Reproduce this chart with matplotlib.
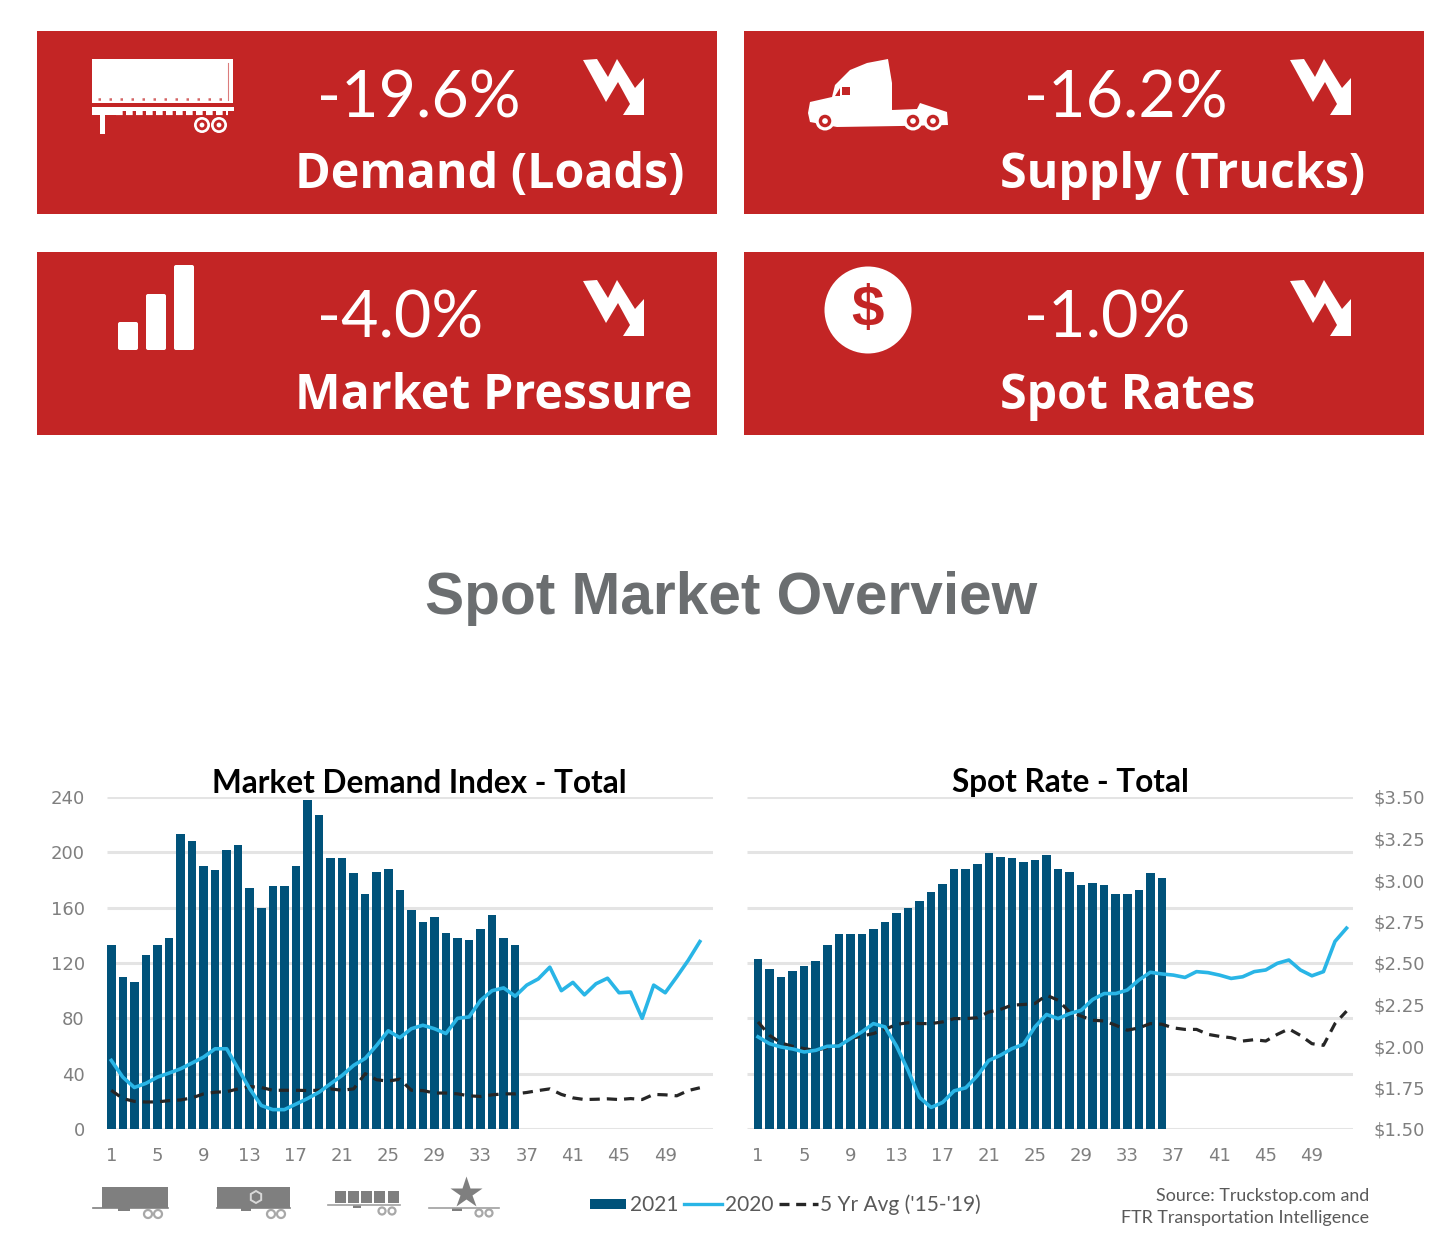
import matplotlib
matplotlib.use('Agg')
import matplotlib.pyplot as plt
from matplotlib.patches import Rectangle, Polygon, Circle, FancyBboxPatch, RegularPolygon

# cards
CardPct = ['-19.6%', '-16.2%', '-4.0%', '-1.0%']
CardName = ['Demand (Loads)', 'Supply (Trucks)', 'Market Pressure', 'Spot Rates']

# left chart
DemandWeeks = list(range(1, 37))
Demand2021 = [133, 110, 106, 126, 133, 138, 213, 208, 190, 187, 201.5, 205, 174.5, 160, 176, 176, 190, 238,
              227, 196, 196, 185, 170, 186, 188, 173, 158, 150, 153, 142, 138, 136.5, 144.5, 155, 138, 133]
Demand2020 = [49.6, 37.5, 30, 33, 37.5, 40.4, 43.5, 47.7, 52, 58, 58, 43.5, 29, 17, 14, 14, 18, 22, 26.6, 32.7,
              38.7, 46, 51, 60.5, 71, 66, 72.5, 75, 72.5, 69, 80, 81, 93, 100, 102, 96, 104, 108.5, 117, 100,
              106, 97, 105, 109, 98.5, 99, 80, 104, 98.5, 110, 122, 135.5]
DemandAvg = [28, 22, 20, 19.5, 19.6, 20.5, 21, 22.5, 25.4, 26.6, 27, 29, 30.7, 30, 28, 28, 28, 27.8, 28, 29,
             28, 29, 40, 35.6, 34.6, 36, 28, 27.8, 26, 26, 25.4, 24, 23.5, 24.7, 25.4, 25.4, 26.4, 27.8, 29,
             25, 22.5, 21.3, 21.5, 21.8, 21.3, 22, 21.3, 25, 24.7, 24, 27.8, 29.8]
DemandTicks = [0, 40, 80, 120, 160, 200, 240]

# right chart
Rate2021 = [2.524, 2.464, 2.413, 2.454, 2.482, 2.51, 2.607, 2.677, 2.677, 2.677, 2.704, 2.746, 2.80, 2.829,
            2.871, 2.927, 2.974, 3.066, 3.066, 3.097, 3.163, 3.137, 3.135, 3.109, 3.121, 3.151, 3.066, 3.05,
            2.97, 2.98, 2.97, 2.913, 2.913, 2.94, 3.04, 3.01]
Rate2020 = [2.055, 2.014, 1.994, 1.982, 1.964, 1.974, 1.998, 2.0, 2.044, 2.085, 2.135, 2.115, 2.0, 1.853, 1.69,
            1.63, 1.66, 1.73, 1.748, 1.82, 1.913, 1.944, 1.984, 2.01, 2.115, 2.19, 2.165, 2.195, 2.215, 2.28,
            2.316, 2.316, 2.337, 2.397, 2.444, 2.434, 2.427, 2.413, 2.448, 2.442, 2.427, 2.407, 2.417, 2.448,
            2.458, 2.498, 2.518, 2.458, 2.423, 2.448, 2.63, 2.71]
RateAvg = [2.145, 2.064, 2.018, 1.998, 1.984, 1.974, 1.99, 2.004, 2.044, 2.06, 2.075, 2.1, 2.13, 2.14, 2.135,
           2.135, 2.145, 2.165, 2.165, 2.17, 2.205, 2.22, 2.246, 2.25, 2.256, 2.306, 2.276, 2.205, 2.18, 2.155,
           2.151, 2.125, 2.095, 2.109, 2.135, 2.131, 2.109, 2.1, 2.1, 2.07, 2.058, 2.05, 2.03, 2.038, 2.03, 2.07,
           2.103, 2.064, 2.014, 2.004, 2.135, 2.21]
RateTicks = [1.5, 1.75, 2.0, 2.25, 2.5, 2.75, 3.0, 3.25, 3.5]
RateGrid = [1.5, 1.8333, 2.1667, 2.5, 2.8333, 3.1667, 3.5]

Weeks = list(range(1, 53))
WeekTicks = list(range(1, 50, 4))

RED = '#c32525'
BLUE = '#00527a'
LIGHT = '#29b5e6'
GRID = '#e4e4e4'
GREY = '#7f7f7f'
W, H = 1440, 1260


def ChartAxes(left, right, top, bottom):
    return fig.add_axes([left / W, 1 - bottom / H, (right - left) / W, (bottom - top) / H])


def DrawChart(ax, bars, avg, line, xlim, ylim, grid):
    ax.hlines(grid, xlim[0], xlim[1], color=GRID, lw=2.2, zorder=1)
    ax.bar(DemandWeeks, bars, width=0.74, color=BLUE, zorder=2)
    ax.plot(Weeks, avg, color='#262626', lw=2.3, ls=(0, (3.2, 2.2)), zorder=3)
    ax.plot(Weeks, line, color=LIGHT, lw=2.6, solid_joinstyle='round', zorder=4)
    ax.set_xlim(xlim)
    ax.set_ylim(ylim)
    ax.set_xticks(WeekTicks)
    ax.tick_params(length=0, labelsize=13, labelcolor=GREY, pad=13)
    for s in ax.spines.values():
        s.set_visible(False)
    ax.patch.set_alpha(0)


def Arrow(ax, dx, dy):
    pts = [(583, 60), (597, 59), (608, 77), (617, 59), (635, 88), (644, 78), (644, 115), (623, 115),
           (630, 104), (618, 82), (606, 102)]
    ax.add_patch(Polygon([(x + dx, y + dy) for x, y in pts], closed=True, fc='white', ec='none'))


def Wheel(ax, x, y, r, fg='white', bg=RED):
    ax.add_patch(Circle((x, y), r, fc=fg, ec='none'))
    ax.add_patch(Circle((x, y), r * 0.66, fc=bg, ec='none'))
    ax.add_patch(Circle((x, y), r * 0.3, fc=fg, ec='none'))


def Trailer(ax):
    ax.add_patch(Rectangle((92, 59), 141, 44, fc='white', ec='none'))
    ax.plot([228, 228], [63, 100], color=RED, lw=0.8, alpha=0.6)
    ax.plot([98, 224], [99, 99], color=RED, lw=1.8, ls=(0, (1, 3.4)), alpha=0.7)
    ax.add_patch(Rectangle((92, 107), 142, 4, fc='white', ec='none'))
    ax.add_patch(Rectangle((92, 111), 26, 4, fc='white', ec='none'))
    ax.plot([116, 228], [113, 113], color='white', lw=3, ls=(0, (1.6, 0.8)))
    ax.add_patch(Rectangle((100, 114), 5, 20, fc='white', ec='none'))
    Wheel(ax, 202, 125, 8)
    Wheel(ax, 219, 125, 8)


def Truck(ax):
    body = [(808, 113), (810, 102), (832, 97), (835, 85), (850, 70), (867, 63), (888, 59), (892, 83), (892, 110),
            (917, 109), (920, 103), (947, 112), (948, 125), (900, 126), (837, 127), (810, 122)]
    ax.add_patch(Polygon(body, closed=True, fc='white', ec='none'))
    ax.add_patch(Rectangle((842, 87), 8, 8, fc=RED, ec='none'))
    ax.add_patch(Polygon([(835, 96), (840, 96), (840, 88)], closed=True, fc=RED, ec='none'))
    Wheel(ax, 825, 121, 9.5)
    Wheel(ax, 913, 121, 9.5)
    Wheel(ax, 933, 121, 9.5)


def BarsIcon(ax):
    for x, top in zip([118, 146, 174], [322, 294, 265]):
        ax.add_patch(FancyBboxPatch((x + 2, top + 2), 16, 346 - top, boxstyle='round,pad=2', fc='white', ec='none'))


def DollarIcon(ax):
    ax.add_patch(Circle((868, 310), 43.5, fc='white', ec='none'))
    ax.text(868, 311, '$', color=RED, fontsize=42, family='Liberation Sans', weight='bold', ha='center', va='center')


def SmallWheels(ax, xs, y, r):
    for x in xs:
        ax.add_patch(Circle((x, y), r, fc='none', ec='#a8a8a8', lw=1.6))


def SmallTrailers(ax):
    c = '#7f7f7f'
    # dry van
    ax.add_patch(Rectangle((102, 1187), 66, 21, fc=c, ec='none'))
    ax.plot([93, 168], [1208, 1208], color=c, lw=1.2)
    ax.add_patch(Rectangle((118, 1208), 12, 3, fc=c, ec='none'))
    SmallWheels(ax, [148, 158], 1214, 4)
    # reefer
    ax.add_patch(Rectangle((217, 1187), 73, 21, fc=c, ec='none'))
    ax.plot([217, 290], [1208, 1208], color=c, lw=1.2)
    ax.add_patch(RegularPolygon((256, 1197), 6, radius=6, fc='none', ec='#d8d8d8', lw=1.4))
    ax.add_patch(Rectangle((241, 1208), 10, 3, fc=c, ec='none'))
    SmallWheels(ax, [271, 281], 1214, 4)
    # flatbed
    for x in [335, 348, 361, 374, 388]:
        ax.add_patch(Rectangle((x, 1191), 10.5, 12, fc=c, ec='none'))
    ax.plot([328, 400], [1205, 1205], color='#a0a0a0', lw=1.2)
    ax.add_patch(Rectangle((353, 1205), 8, 2.5, fc=c, ec='none'))
    SmallWheels(ax, [382, 392], 1211, 3.5)
    # specialized
    ax.plot([466], [1193], marker='*', ms=24, mfc=c, mec='none')
    ax.plot([429, 499], [1208, 1208], color='#a0a0a0', lw=1.2)
    ax.add_patch(Rectangle((452, 1208), 10, 2.5, fc=c, ec='none'))
    SmallWheels(ax, [479, 489], 1213, 3.5)


fig = plt.figure(figsize=(14.4, 12.6), dpi=100, facecolor='white')

# overlay in pixel coordinates for cards, icons and legend
page = fig.add_axes([0, 0, 1, 1])
page.set_xlim(0, W)
page.set_ylim(H, 0)
page.axis('off')

card_xy = [(37, 31), (744, 31), (37, 252), (744, 252)]
for (x, y), pct, name in zip(card_xy, CardPct, CardName):
    page.add_patch(Rectangle((x, y), 680, 183, fc=RED, ec='none'))
    page.text(x + 280, y + 86, pct, color='white', fontsize=46.5, family='Lato', ha='left', va='baseline')
    page.text(x + (258 if x < 700 else 256), y + 157, name, color='white', fontsize=34.8, family='Open Sans',
              weight='bold', ha='left', va='baseline')
    Arrow(page, x - 37, y - 31)

Trailer(page)
Truck(page)
BarsIcon(page)
DollarIcon(page)

page.text(731, 598.5, 'Spot Market Overview', color='#6b6e70', fontsize=42.2, family='Liberation Sans',
          weight='bold', ha='center', va='center')

SmallTrailers(page)

# legend
page.add_patch(Rectangle((590, 1199), 36, 10, fc=BLUE, ec='none'))
page.text(630, 1205, '2021', color='#595959', fontsize=15, family='Lato', va='center')
page.plot([684, 722], [1204, 1204], color=LIGHT, lw=2.4)
page.text(725, 1205, '2020', color='#595959', fontsize=15, family='Lato', va='center')
page.plot([779, 818], [1204, 1204], color='#262626', lw=2.4, ls=(0, (3, 2)))
page.text(820, 1205, "5 Yr Avg ('15-'19)", color='#595959', fontsize=15, family='Lato', va='center')
page.text(1369, 1196, 'Source: Truckstop.com and', color='#595959', fontsize=12.9, family='Lato', ha='right', va='center')
page.text(1369, 1218, 'FTR Transportation Intelligence', color='#595959', fontsize=12.9, family='Lato', ha='right', va='center')

# left chart
ax1 = ChartAxes(107, 713, 797, 1129)
DrawChart(ax1, Demand2021, DemandAvg, Demand2020, (0.63, 53.14), (0, 240), DemandTicks)
ax1.set_yticks(DemandTicks)
ax1.tick_params(axis='y', pad=16)
ax1.text(0.515, 1.04, 'Market Demand Index - Total', transform=ax1.transAxes, fontsize=22.7, family='Lato',
         weight='bold', color='black', ha='center', va='center')

# right chart
ax2 = ChartAxes(747, 1353, 797, 1129)
DrawChart(ax2, Rate2021, RateAvg, Rate2020, (0.047, 52.56), (1.5, 3.5), RateGrid)
ax2.yaxis.tick_right()
ax2.set_yticks(RateTicks)
ax2.set_yticklabels(['$%.2f' % v for v in RateTicks])
ax2.tick_params(axis='y', pad=15)
ax2.text(0.533, 1.045, 'Spot Rate - Total', transform=ax2.transAxes, fontsize=22.7, family='Lato',
         weight='bold', color='black', ha='center', va='center')

fig.savefig('out.png', dpi=100)
